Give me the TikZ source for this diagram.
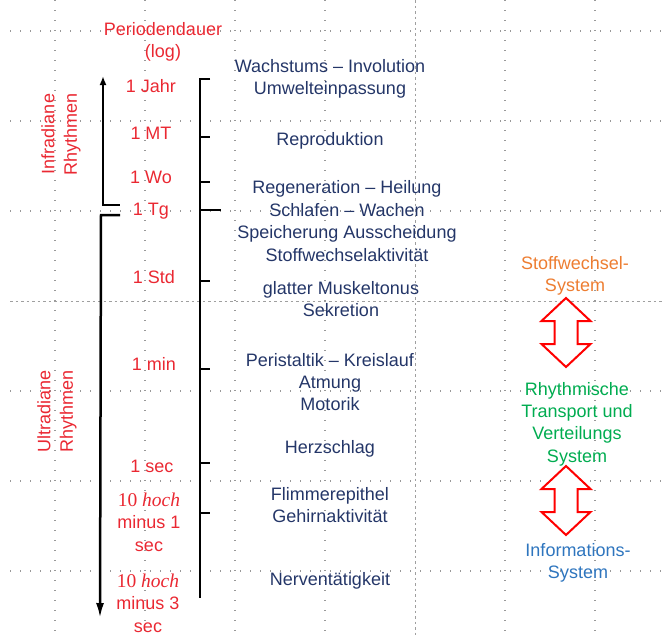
\documentclass[tikz,border=0pt]{standalone}
\usepackage{fontspec}
\setmainfont{Liberation Sans}
\newfontfamily\serifnum{Liberation Serif}
\usepackage{xcolor}
\usepackage{tikz}
\usetikzlibrary{arrows.meta,calc}

\definecolor{lblred}{RGB}{234,40,50}
\definecolor{navy}{RGB}{36,54,104}
\definecolor{sysorange}{RGB}{237,125,49}
\definecolor{sysgreen}{RGB}{0,172,80}
\definecolor{sysblue}{RGB}{46,117,190}

\begin{document}
\begin{tikzpicture}[
    x=1pt, y=-1pt,
    txt/.style={align=center, inner sep=0pt, font=\fontsize{18}{22.4}\selectfont},
    per/.style={txt, text=lblred},
    act/.style={txt, text=navy},
    sys/.style={txt},
    grd/.style={draw=gray!80, line width=1.3pt, dash pattern=on 1.3pt off 8.7pt},
    grdc/.style={draw=gray!75, line width=0.9pt, dash pattern=on 2.5pt off 3pt},
    ax/.style={draw=black, line width=2.5pt},
    updown/.pic={\draw[draw=red, line width=2pt, fill=white, line join=miter]
        (0,0) -- (-24.5,23) -- (-11.5,23) -- (-11.5,46) -- (-24.5,46) -- (0,69)
        -- (24.5,46) -- (11.5,46) -- (11.5,23) -- (24.5,23) -- cycle;}
]
    \useasboundingbox (0,0) rectangle (662,635);

    % grid
    \foreach \k in {0,...,6} {
        \pgfmathsetmacro{\gx}{55+90*\k}
        \pgfmathsetmacro{\gy}{31+90*\k}
        \ifnum\k=4 \draw[grdc] (\gx,0) -- (\gx,635);
        \else \draw[grd] (\gx,0) -- (\gx,635); \fi
        \ifnum\k=3 \draw[grdc] (10,\gy) -- (662,\gy);
        \else \draw[grd] (10,\gy) -- (662,\gy); \fi
    }

    % rhythm axis
    \coordinate (t0) at (103,76);
    \coordinate (t1) at (103,205);
    \coordinate (t2) at (120,205);
    \coordinate (u0) at (120,215);
    \coordinate (u1) at (101,215);
    \coordinate (u2) at (100,618);
    \draw [ax, {Latex[length=9pt,width=7pt]}-] (t0) -- (t1) -- (t2);
    \draw [ax, -{Latex[length=15pt,width=8pt]}] (u0) -- (u1) -- (u2);

    % period scale
    \coordinate (k0) at (210,79);
    \coordinate (k1) at (200,79);
    \coordinate (k2) at (200,598);
    \draw [ax] (k0) -- (k1) -- (k2);
    \foreach \y in {137,182,281,369,463,513}
        \draw [ax] (200,\y) -- (210,\y);
    \draw [ax] (200,210) -- (221,210);

    \node [txt, text=lblred, rotate=90] (r1) at (61,134) {Infradiane\\Rhythmen};
    \node [txt, text=lblred, rotate=90] (r2) at (57,411) {Ultradiane\\Rhythmen};

    \node [per] (p0) at (163,42) {Periodendauer\\(log)};
    \node [per] (p1) at (151,86) {1 Jahr};
    \node [per] (p2) at (151,133) {1 MT};
    \node [per] (p3) at (151,177) {1 Wo};
    \node [per] (p4) at (151,211) {1 Tg};
    \node [per] (p5) at (154,277) {1 Std};
    \node [per] (p6) at (154,364) {1 min};
    \node [per] (p7) at (152,466) {1 sec};
    \node [per] (p8) at (149,522) {{\serifnum\fontsize{19.5}{22.4}\selectfont 10 \textit{hoch}}\\minus 1\\sec};
    \node [per] (p9) at (148,603) {{\serifnum\fontsize{19.5}{22.4}\selectfont 10 \textit{hoch}}\\minus 3\\sec};

    \node [act] (a1) at (330,79) {Wachstums – Involution\\Umwelteinpassung};
    \node [act] (a2) at (330,141) {Reproduktion};
    \node [act] (a3) at (347,221) {Regeneration – Heilung\\Schlafen – Wachen\\Speicherung Ausscheidung\\Stoffwechselaktivität};
    \node [act] (a4) at (341,299) {glatter Muskeltonus\\Sekretion};
    \node [act] (a5) at (330,382) {Peristaltik – Kreislauf\\Atmung\\Motorik};
    \node [act] (a6) at (330,449) {Herzschlag};
    \node [act] (a7) at (330,505) {Flimmerepithel\\Gehirnaktivität};
    \node [act] (a8) at (330,581) {Nerventätigkeit};

    \node [sys, text=sysorange] (s1) at (575,276) {Stoffwechsel-\\System};
    \node [sys, text=sysgreen] (s2) at (577,424) {Rhythmische\\Transport und\\Verteilungs\\System};
    \node [sys, text=sysblue] (s3) at (578,563) {Informations-\\System};

    \pic at (566,298) {updown};
    \pic at (566,466) {updown};
\end{tikzpicture}
\end{document}
